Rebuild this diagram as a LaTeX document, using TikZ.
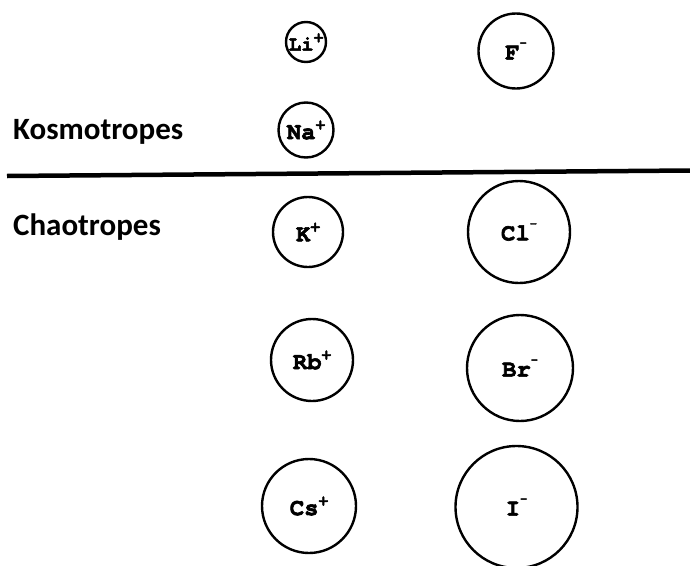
\documentclass[tikz,border=0pt]{standalone}
\usepackage{fontspec}
\setmainfont{Carlito}
\newfontfamily\ionfont{TeX Gyre Cursor}[BoldFeatures={FakeBold=2.5}]
\newcommand\ionsup[1]{\raisebox{0.42em}{\fontsize{16}{16}\selectfont #1}}
\newcommand\ionminus{\raisebox{0.55em}{\fontsize{12}{12}\selectfont -}}
\begin{document}
\begin{tikzpicture}[x=1pt,y=-1pt,
  ion/.style={circle,draw,line width=2.4pt,inner sep=0pt},
  ionlab/.style={inner sep=0pt,
    font=\ionfont\bfseries\fontsize{24}{24}\selectfont},
  grp/.style={anchor=base west,inner sep=0pt,
    font=\bfseries\fontsize{31}{31}\selectfont}]
\useasboundingbox (0,0) rectangle (690,565);
% group labels
\node[grp] (kos) at (13,139.5) {Kosmotropes};
\node[grp] (cha) at (13,235) {Chaotropes};
% divider
\coordinate (ll) at (7,176);
\coordinate (lr) at (690,170.5);
\draw[line width=4.5pt] (ll) -- (lr);
% cations
\node[ion,minimum size=40pt] (li) at (306,42) {};
\node[ionlab,font=\ionfont\bfseries\fontsize{21}{21}\selectfont] (lit) at (li) {Li\ionsup{+}};
\node[ion,minimum size=55pt] (na) at (306,130) {};
\node[ionlab] (nat) at (na) {Na\ionsup{+}};
\node[ion,minimum size=70pt] (k) at (308,232) {};
\node[ionlab] (kt) at (k) {K\ionsup{+}};
\node[ion,minimum size=82pt] (rb) at (312,360) {};
\node[ionlab] (rbt) at (rb) {Rb\ionsup{+}};
\node[ion,minimum size=94pt] (cs) at (309,506) {};
\node[ionlab] (cst) at (cs) {Cs\ionsup{+}};
% anions
\node[ion,minimum size=75pt] (f) at (516,51) {};
\node[ionlab] (ft) at (f) {F\ionminus};
\node[ion,minimum size=102pt] (cl) at (519,232) {};
\node[ionlab] (clt) at (cl) {Cl\ionminus};
\node[ion,minimum size=106pt] (br) at (520,368) {};
\node[ionlab] (brt) at (br) {Br\ionminus};
\node[ion,minimum size=122pt] (i) at (516.5,507) {};
\node[ionlab] (it) at (i) {I\ionminus};
\end{tikzpicture}
\end{document}
